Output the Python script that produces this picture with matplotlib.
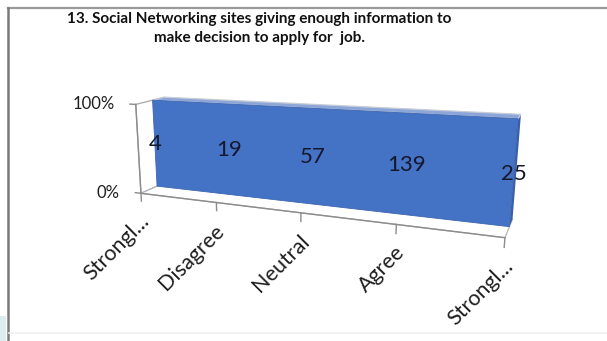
import numpy as np
import matplotlib
matplotlib.use('Agg')
import matplotlib.pyplot as plt
from matplotlib.transforms import Transform
from matplotlib.patches import Polygon, Rectangle

plt.rcParams['font.family'] = ['Lato', 'DejaVu Sans']

# Survey answers: a single series drawn as a 100% stacked 3-D area
categories = ['Strongl...', 'Disagree', 'Neutral', 'Agree', 'Strongl...']
responses = [4, 19, 57, 139, 25]
y_ticks = [0, 100]
y_tick_labels = ['0%', '100%']
title = ('13. Social Networking sites giving enough information to\n'
         'make decision to apply for  job.')

W, H = 607, 341

# depth of the series slab inside the chart box (0 = front edge of the floor)
FRONT, BACK = 0.57, 1.0

# camera calibration: (category, percent, depth) -> canvas pixel
calib_model = [(0, 0, 0), (1, 0, 0), (2, 0, 0), (3, 0, 0), (4, 0, 0),
               (0, 100, FRONT), (4, 100, FRONT), (0, 0, FRONT), (4, 0, FRONT),
               (0, 100, BACK), (4, 100, BACK)]
calib_pixel = [(140, 192), (217, 202), (302, 213), (397, 225), (504, 238),
               (152, 102), (518, 118), (157, 186), (509, 228),
               (165, 97), (521, 113)]


def fit_camera(model, pixel):
    rows = []
    for (x, y, z), (u, v) in zip(model, pixel):
        p = np.array([x, y / 100, z, 1.0])
        u, v = u / 100, v / 100
        rows.append(np.r_[p, np.zeros(4), -u * p])
        rows.append(np.r_[np.zeros(4), p, -v * p])
    P = np.linalg.svd(np.array(rows))[2][-1].reshape(3, 4)
    return np.diag([100, 100, 1]) @ P


class Lift(Transform):
    """Lifts 2-D coordinates onto a surface of the chart box and projects them."""
    input_dims = output_dims = 2
    is_affine = False
    has_inverse = False

    def __init__(self, camera, lift):
        super().__init__()
        self.camera, self.lift = camera, lift

    def transform_non_affine(self, values):
        a, b = np.asarray(values, float).reshape(-1, 2).T
        x, y, z = self.lift(a, b)
        h = self.camera @ np.vstack([x, y / 100, z, np.ones_like(x)])
        return (h[:2] / h[2]).T


camera = fit_camera(calib_model, calib_pixel)

counts = np.array(responses, float)
share = 100 * counts / counts          # one series -> every column is 100%
xs = np.arange(len(categories))
x_end = xs[-1]

fig = plt.figure(figsize=(W / 100, H / 100), dpi=100)
ax = fig.add_axes([0, 0, 1, 1])
ax.set_xlim(0, W)
ax.set_ylim(H, 0)
ax.axis('off')


def on_depth(z):
    return Lift(camera, lambda a, b: (a, b, np.full_like(a, z))) + ax.transData


def on_side(xv):
    return Lift(camera, lambda a, b: (np.full_like(a, xv), b, a)) + ax.transData


on_floor = Lift(camera, lambda a, b: (a, np.zeros_like(a), b)) + ax.transData
on_top = Lift(camera, lambda a, b: (a, np.interp(a, xs, share), b)) + ax.transData

# chart area frame
ax.add_patch(Rectangle((0, 316), 6, 30, color='#dcedf0', lw=0))
ax.plot([7.5, W], [8, 8], color='#9a9a9a', lw=1.6)
ax.plot([7.5, 7.5], [8, H], color='#7a7a7a', lw=1.8)
ax.plot([9, W], [333, 333], color='#f0f0f0', lw=1.2)

# left wall and floor
ax.add_patch(Polygon([(0, 0), (BACK, 0), (BACK, 100), (0, 100)], closed=True,
                     transform=on_side(0), facecolor='white',
                     edgecolor='#a8a8a8', lw=0.9))
ax.add_patch(Polygon([(0, 0), (x_end, 0), (x_end, BACK), (0, BACK)], closed=True,
                     transform=on_floor, facecolor='white',
                     edgecolor='#b4b4b4', lw=0.9))

# series slab: side, top, front
ax.add_patch(Polygon([(FRONT, 0), (BACK, 0), (BACK, share[-1]), (FRONT, share[-1])],
                     closed=True, transform=on_side(x_end),
                     facecolor='#3a60a8', edgecolor='none'))
ax.add_patch(Polygon([(0, FRONT), (x_end, FRONT), (x_end, BACK), (0, BACK)],
                     closed=True, transform=on_top,
                     facecolor='#8ca6d9', edgecolor='#c8ccd6', lw=0.9))
front = np.column_stack([np.r_[xs, xs[::-1]], np.r_[share, np.zeros_like(share)]])
ax.add_patch(Polygon(front, closed=True, transform=on_depth(FRONT),
                     facecolor='#4472c4', edgecolor='#3d66b2', lw=0.6))

# axes lines and tick marks
axis_tr = on_depth(0)
ax.plot([0, 0], [0, 100], color='#8c8c8c', lw=1.0, transform=axis_tr)
ax.plot([0, x_end], [0, 0], color='#8c8c8c', lw=1.0, transform=axis_tr)
for t in y_ticks:
    ax.plot([-0.08, 0], [t, t], color='#8c8c8c', lw=1.0, transform=axis_tr)
for i in xs:
    ax.plot([i, i], [0, -9], color='#8c8c8c', lw=1.0, transform=axis_tr)

for t, lab in zip(y_ticks, y_tick_labels):
    ax.annotate(lab, xy=(0, t), xycoords=axis_tr, xytext=(-21, 0),
                textcoords='offset pixels', ha='right', va='center',
                fontsize=12, color='#1e1e1e')

for i, lab in zip(xs, categories):
    ax.annotate(lab, xy=(i, 0), xycoords=axis_tr, xytext=(-2, -18),
                textcoords='offset pixels', ha='right', va='top',
                rotation=45, rotation_mode='anchor', fontsize=15.5,
                color='#1e1e1e')

# value labels on the series face
for i, n in zip(xs, responses):
    ax.text(i, 50, str(n), transform=on_depth(FRONT), ha='center', va='center',
            fontsize=16, color='#15182c')

ax.text(259, 12, title, ha='center', va='top', fontsize=11, fontweight='bold',
        linespacing=1.45, color='#111111')

fig.savefig('out.png', dpi=100)
